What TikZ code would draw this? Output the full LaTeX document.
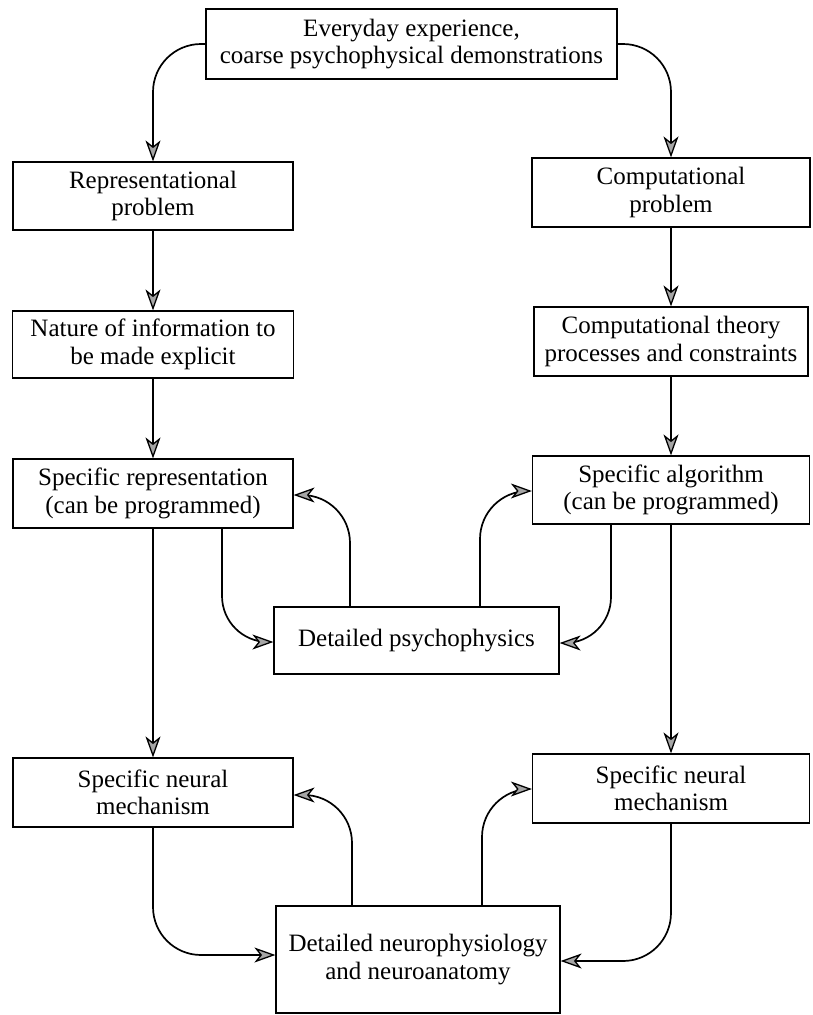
\documentclass[tikz,border=0pt]{standalone}
\usepackage{fontspec}
\setmainfont{Liberation Serif}
\usetikzlibrary{arrows.meta}
\begin{document}
\begin{tikzpicture}[x=1pt,y=-1pt,
  box/.style={draw,line width=1.2pt,rectangle,inner sep=0pt,align=center,
    font=\fontsize{25}{27.5}\selectfont},
  arr/.style={line width=1.7pt,-{Stealth[length=21pt,width=15pt,inset=6pt,fill=gray!70,line width=1.3pt]}},
  curvy/.style={rounded corners=48pt}
]
\useasboundingbox (0,0) rectangle (813,1015);

% boxes
\node[box,minimum width=411pt,minimum height=70pt] (top) at (411.5,44)
  {Everyday experience,\\coarse psychophysical demonstrations};
\node[box,minimum width=280pt,minimum height=68pt] (rep) at (153,196)
  {Representational\\problem};
\node[box,minimum width=278pt,minimum height=69pt] (comp) at (671,192.5)
  {Computational\\problem};
\node[box,minimum width=281pt,minimum height=67pt] (nat) at (153,344.5)
  {Nature of information to\\be made explicit};
\node[box,minimum width=274pt,minimum height=69pt] (theory) at (671,341.5)
  {Computational theory\\processes and constraints};
\node[box,minimum width=280pt,minimum height=69pt] (specrep) at (153,493.5)
  {Specific representation\\(can be programmed)};
\node[box,minimum width=277pt,minimum height=68pt] (specalg) at (671,490)
  {Specific algorithm\\(can be programmed)};
\node[box,minimum width=285pt,minimum height=67pt] (psych) at (416.5,640.5)
  {Detailed psychophysics};
\node[box,minimum width=280pt,minimum height=69pt] (lneur) at (153,792.5)
  {Specific neural\\mechanism};
\node[box,minimum width=277pt,minimum height=69pt] (rneur) at (671,788.5)
  {Specific neural\\mechanism};
\node[box,minimum width=284pt,minimum height=107pt] (neuro) at (418,959.5)
  {Detailed neurophysiology\\and neuroanatomy};

% top split
\draw[arr,curvy] (top.west) -| (rep.north);
\draw[arr,curvy] (top.east) -| (comp.north);

% columns
\draw[arr] (rep.south) -- (nat.north);
\draw[arr] (nat.south) -- (specrep.north);
\draw[arr] (specrep.south) -- (lneur.north);
\draw[arr] (comp.south) -- (theory.north);
\draw[arr] (theory.south) -- (specalg.north);
\draw[arr] (specalg.south) -- (rneur.north);

% psychophysics loop
\draw[arr,rounded corners=46pt] ([xshift=69pt]specrep.south) |- ([yshift=-1.5pt]psych.west);
\draw[arr,curvy] ([xshift=-66.5pt]psych.north) |- ([yshift=-1.5pt]specrep.east);
\draw[arr,curvy] ([xshift=63.5pt]psych.north) |- ([yshift=-1pt]specalg.west);
\draw[arr,rounded corners=46pt] ([xshift=-60pt]specalg.south) |- ([yshift=-2.5pt]psych.east);

% neurophysiology loop
\draw[arr,curvy] (lneur.south) |- ([yshift=4.5pt]neuro.west);
\draw[arr,curvy] ([xshift=-66pt]neuro.north) |- ([yshift=-2.5pt]lneur.east);
\draw[arr,curvy] ([xshift=64pt]neuro.north) |- ([yshift=-0.5pt]rneur.west);
\draw[arr,curvy] (rneur.south) |- ([yshift=-1.5pt]neuro.east);
\end{tikzpicture}
\end{document}
